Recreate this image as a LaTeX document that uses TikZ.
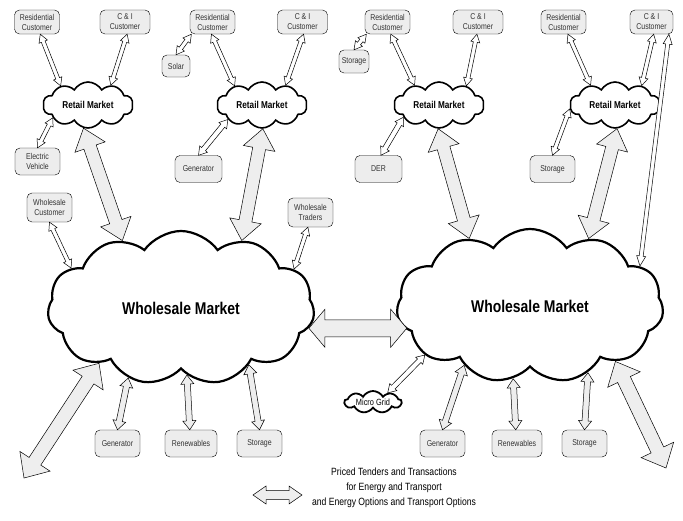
\documentclass[tikz,border=0pt]{standalone}
\usepackage{fontspec}
\setmainfont[FakeStretch=0.82]{Liberation Sans}
\usetikzlibrary{shapes.symbols, calc}

\definecolor{boxgray}{HTML}{EDEDED}
\definecolor{arrgray}{HTML}{EEEEEE}
\definecolor{boxtext}{HTML}{333333}

% two-headed block arrow: [style]{from}{to}{shaft half}{head half}{head length}
\newcommand\dblarrow[6][thinarr]{%
\draw[#1] (#2)
 -- ($($(#2)!#6!(#3)$)!#5!90:(#3)$) -- ($($(#2)!#6!(#3)$)!#4!90:(#3)$)
 -- ($($(#3)!#6!(#2)$)!#4!-90:(#2)$) -- ($($(#3)!#6!(#2)$)!#5!-90:(#2)$)
 -- (#3)
 -- ($($(#3)!#6!(#2)$)!#5!90:(#2)$) -- ($($(#3)!#6!(#2)$)!#4!90:(#2)$)
 -- ($($(#2)!#6!(#3)$)!#4!-90:(#3)$) -- ($($(#2)!#6!(#3)$)!#5!-90:(#3)$)
 -- cycle;}

\tikzset{
  box/.style={draw, rounded corners=5pt, fill=boxgray, align=center, text=boxtext,
    inner sep=0pt, minimum width=45pt, minimum height=27pt, font=\fontsize{8.5}{10}\selectfont},
  topbox/.style={box, minimum height=24pt},
  retail/.style={cloud, draw, fill=white, cloud puffs=10, cloud puff arc=120, cloud ignores aspect,
    minimum width=90pt, minimum height=46pt, inner sep=0pt, line width=1.6pt,
    font=\bfseries\fontsize{10}{12}\selectfont},
  wholesale/.style={cloud, draw, fill=white, cloud puffs=11, cloud puff arc=110, cloud ignores aspect,
    minimum width=267pt, minimum height=154pt, inner sep=0pt, line width=2.2pt,
    font=\bfseries\fontsize{17}{20}\selectfont},
  thinarr/.style={draw, line width=0.5pt, fill=white},
  fatarr/.style={draw, line width=0.5pt, fill=arrgray},
}

\begin{document}
\begin{tikzpicture}[x=1pt, y=-1pt]
\useasboundingbox (0,0) rectangle (683,520);

% clouds
\node[retail] (rm1) at (88,105) {Retail Market};
\node[retail] (rm2) at (262,105) {Retail Market};
\node[retail] (rm3) at (439,105) {Retail Market};
\node[retail] (rm4) at (615,105) {Retail Market};
\node[wholesale] (ww1) at (181,308) {Wholesale Market};
\node[wholesale] (ww2) at (530,306) {Wholesale Market};
\node[cloud, draw, fill=white, cloud puffs=9, cloud puff arc=120, cloud ignores aspect,
  minimum width=57pt, minimum height=22pt, inner sep=0pt, line width=1.8pt,
  font=\fontsize{9}{10}\selectfont] (mg) at (373,402) {Micro Grid};

% boxes
\node[topbox] (rc1) at (37,22) {Residential\\Customer};
\node[topbox, minimum width=50pt] (ci1) at (125,22) {C \& I\\Customer};
\node[topbox] (rc2) at (212.5,22) {Residential\\Customer};
\node[topbox, minimum width=50pt] (ci2) at (302.5,22) {C \& I\\Customer};
\node[box, minimum width=28pt, minimum height=22pt] (sol) at (176,66) {Solar};
\node[topbox] (rc3) at (387.5,22) {Residential\\Customer};
\node[topbox, minimum width=50pt] (ci3) at (478,22) {C \& I\\Customer};
\node[box, minimum width=30pt, minimum height=23pt] (st3) at (354,61.5) {Storage};
\node[topbox] (rc4) at (563.5,22) {Residential\\Customer};
\node[topbox, minimum width=43pt] (ci4) at (651.5,22) {C \& I\\Customer};
\node[box] (ev) at (37.5,161.5) {Electric\\Vehicle};
\node[box, minimum width=47pt] (gn2) at (198.5,169) {Generator};
\node[box, minimum width=47pt] (der) at (378.5,169) {DER};
\node[box] (st4) at (552.5,169) {Storage};
\node[box, minimum height=29pt] (wc) at (49.5,207.5) {Wholesale\\Customer};
\node[box, minimum height=29pt] (wt) at (310.5,212.5) {Wholesale\\Traders};
\node[box] (gb1) at (117.5,443.5) {Generator};
\node[box, minimum width=52pt] (rn1) at (191,443.5) {Renewables};
\node[box] (sb1) at (259.5,443.5) {Storage};
\node[box] (gb2) at (442.5,443.5) {Generator};
\node[box, minimum width=50pt] (rn2) at (517,443.5) {Renewables};
\node[box] (sb2) at (584.5,443.5) {Storage};

\coordinate (sw) at (24,478);
\coordinate (se) at (666,468);
\coordinate (lgA) at (253,495);
\coordinate (lgB) at (302,495);
\node[align=center, font=\fontsize{10.5}{15}\selectfont] (legend) at (394,487.5)
  {Priced Tenders and Transactions\\for Energy and Transport\\and Energy Options and Transport Options};

% retail side
\dblarrow{rc1.-75}{rm1.145}{2pt}{4.5pt}{8pt}
\dblarrow{ci1.-80}{rm1.41}{2pt}{4.5pt}{8pt}
\dblarrow{ev.north}{rm1.200}{2pt}{4.5pt}{8pt}
\dblarrow{sol.north}{rc2.-150}{2pt}{4.5pt}{8pt}
\dblarrow{rc2.-95}{rm2.145}{2pt}{4.5pt}{8pt}
\dblarrow{ci2.-85}{rm2.40}{2pt}{4.5pt}{8pt}
\dblarrow{gn2.north}{rm2.203}{2.5pt}{5pt}{8pt}
\dblarrow{st3.north}{rc3.-150}{2pt}{4.5pt}{8pt}
\dblarrow{rc3.-75}{rm3.141}{2pt}{4.5pt}{8pt}
\dblarrow{ci3.-95}{rm3.35}{2pt}{4.5pt}{8pt}
\dblarrow{der.80}{rm3.199}{2.5pt}{5pt}{8pt}
\dblarrow{rc4.-70}{rm4.141}{2pt}{4.5pt}{8pt}
\dblarrow{ci4.-80}{rm4.36}{2pt}{4.5pt}{8pt}
\dblarrow{st4.north}{rm4.185}{2pt}{4.5pt}{8pt}
\dblarrow{ci4.-35}{ww2.20}{2pt}{4.5pt}{10pt}

% retail to wholesale
\dblarrow[fatarr]{rm1.259}{ww1.131}{6.5pt}{16pt}{20pt}
\dblarrow[fatarr]{rm2.272}{ww1.48}{6.5pt}{16pt}{20pt}
\dblarrow[fatarr]{rm3.268}{ww2.132}{6.5pt}{16pt}{20pt}
\dblarrow[fatarr]{rm4.275}{ww2.49}{6.5pt}{16pt}{20pt}

% wholesale side
\dblarrow{wc.-90}{ww1.160}{2pt}{4.5pt}{8pt}
\dblarrow{wt.-100}{ww1.19}{2pt}{4.5pt}{8pt}
\dblarrow[fatarr]{ww1.351}{ww1.351 -| ww2.191}{8.5pt}{19pt}{16pt}
\dblarrow{mg.32}{ww2.205}{2.5pt}{5pt}{8pt}
\dblarrow[fatarr]{gb1.north}{ww1.233}{3pt}{6.5pt}{9pt}
\dblarrow[fatarr]{rn1.95}{ww1.275}{3pt}{6.5pt}{9pt}
\dblarrow[fatarr]{sb1.north}{ww1.320}{3pt}{6.5pt}{9pt}
\dblarrow[fatarr]{gb2.north}{ww2.222}{3pt}{6.5pt}{9pt}
\dblarrow[fatarr]{rn2.95}{ww2.257}{3pt}{6.5pt}{9pt}
\dblarrow[fatarr]{sb2.north}{ww2.311}{3pt}{6.5pt}{9pt}
\dblarrow[fatarr]{sw}{ww1.214}{7pt}{18pt}{20pt}
\dblarrow[fatarr]{ww2.327}{se}{7pt}{18pt}{20pt}

% legend
\dblarrow[fatarr]{lgA}{lgB}{4.5pt}{9pt}{13pt}
\end{tikzpicture}
\end{document}
